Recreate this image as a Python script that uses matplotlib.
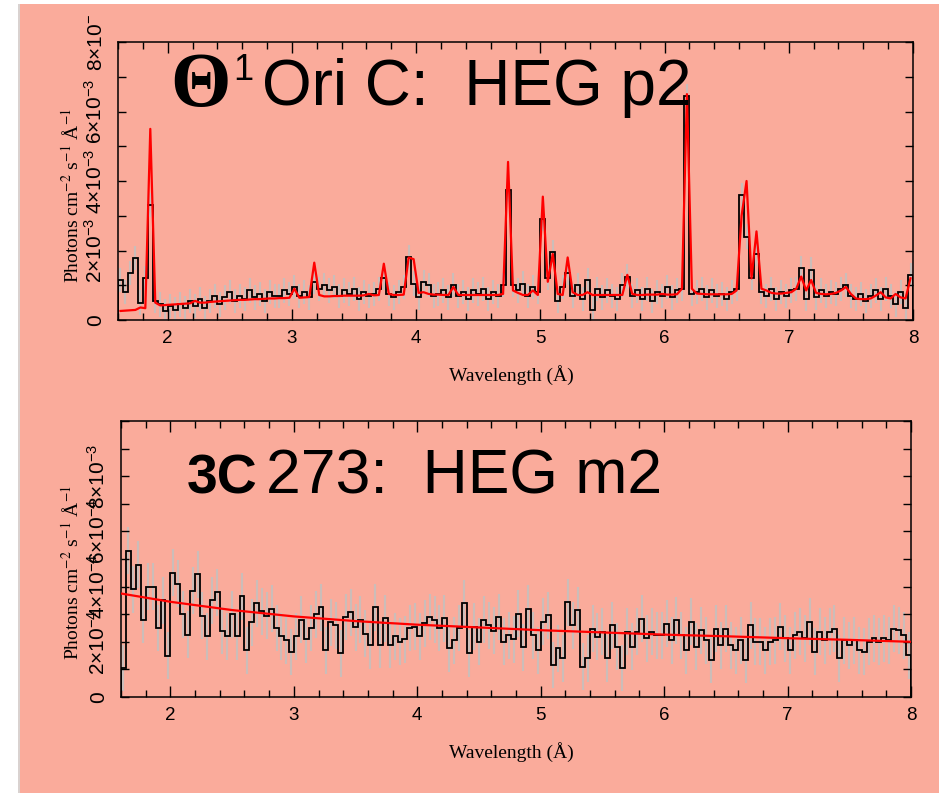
import numpy as np
import matplotlib
matplotlib.use("Agg")
import matplotlib.pyplot as plt
from matplotlib.patches import Rectangle
from matplotlib.ticker import MultipleLocator

plt.rcParams["font.family"] = ["Liberation Sans", "DejaVu Sans"]
plt.rcParams["mathtext.fontset"] = "custom"
plt.rcParams["mathtext.rm"] = "Liberation Sans"
plt.rcParams["mathtext.it"] = "Liberation Sans:italic"
plt.rcParams["mathtext.bf"] = "Liberation Sans:bold"

# ------------------------------------------------------------------
# data (bins of 0.04 A starting at 1.60 A)
# ------------------------------------------------------------------
BIN_START = 1.60
BIN_WIDTH = 0.04

# Theta1 Ori C, HEG p2: counts spectrum (units of 1e-3)
ori_flux = [
    1.15, 0.8, 1.35, 1.78, 0.5, 1.2, 3.3, 0.55, 0.45, 0.25, 0.4, 0.3, 0.45, 0.35, 0.55, 0.4,
    0.6, 0.35, 0.55, 0.7, 0.45, 0.65, 0.8, 0.55, 0.7, 0.6, 0.85, 0.65, 0.75, 0.55, 0.8, 0.7,
    0.7, 0.85, 0.75, 0.95, 0.7, 0.8, 0.65, 1.1, 0.9, 1.0, 0.85, 0.95, 0.7, 0.85, 0.75, 0.9,
    0.6, 0.8, 0.7, 0.75, 0.9, 1.2, 0.75, 0.65, 0.8, 0.95, 1.8, 1.05, 0.65, 1.1, 1.0, 0.7,
    0.75, 0.85, 0.65, 1.0, 0.7, 0.8, 0.6, 0.85, 0.75, 0.9, 0.6, 0.8, 0.7, 1.0, 3.75, 1.0,
    0.85, 1.05, 0.7, 0.95, 0.8, 2.9, 1.2, 1.95, 0.55, 0.95, 1.35, 0.7, 1.0, 0.6, 1.15, 0.3,
    0.9, 0.65, 0.85, 0.7, 0.6, 1.0, 1.25, 0.7, 0.85, 0.6, 0.9, 0.55, 0.8, 0.7, 0.95, 0.65,
    0.85, 0.9, 6.45, 0.75, 0.8, 0.9, 0.65, 0.85, 0.7, 0.75, 0.6, 0.8, 0.9, 3.6, 2.4, 1.2,
    1.9, 0.8, 0.7, 0.9, 0.6, 0.8, 0.7, 0.85, 0.9, 1.5, 0.6, 1.45, 0.65, 0.85, 0.7, 0.8,
    0.75, 0.9, 1.0, 0.7, 0.6, 0.75, 0.55, 0.7, 0.85, 0.6, 0.9, 0.7, 0.45, 0.8, 0.35, 1.3,
]
ori_model = [
    0.26, 0.27, 0.28, 0.29, 0.36, 0.34, 5.5, 0.5, 0.42, 0.43, 0.44, 0.45, 0.46, 0.47, 0.48, 0.55,
    0.5, 0.5, 0.52, 0.53, 0.54, 0.55, 0.56, 0.57, 0.58, 0.58, 0.59, 0.6, 0.6, 0.61, 0.62, 0.62,
    0.63, 0.63, 0.64, 0.9, 0.64, 0.65, 0.66, 1.65, 0.72, 0.68, 0.68, 0.69, 0.69, 0.7, 0.7, 0.7,
    0.7, 0.71, 0.75, 0.71, 0.72, 1.62, 0.75, 0.72, 0.72, 0.73, 1.8, 1.75, 0.78, 0.8, 0.75, 0.73,
    0.73, 0.72, 0.72, 0.95, 0.72, 0.72, 0.72, 0.72, 0.72, 0.72, 0.72, 0.72, 0.72, 0.75, 4.55, 0.85,
    0.78, 0.72, 0.72, 0.85, 0.72, 3.55, 1.1, 1.9, 0.75, 0.72, 1.8, 0.8, 0.72, 0.72, 0.8, 0.72,
    0.72, 0.72, 0.72, 0.72, 0.72, 0.72, 1.3, 0.75, 0.72, 0.72, 0.73, 0.73, 0.73, 0.75, 0.73, 0.73,
    0.74, 0.9, 6.5, 0.9, 0.76, 0.75, 0.74, 0.74, 0.74, 0.74, 0.74, 0.75, 0.85, 3.0, 4.0, 1.2,
    2.55, 0.9, 0.85, 0.78, 0.76, 0.76, 0.78, 0.8, 0.9, 1.25, 0.85, 1.15, 0.78, 0.75, 0.74, 0.75,
    0.78, 0.85, 0.95, 0.75, 0.62, 0.6, 0.6, 0.62, 0.7, 0.8, 0.65, 0.62, 0.75, 0.65, 0.62, 1.2,
]
ori_err = 0.35

# 3C 273, HEG m2 (units of 1e-4)
qso_flux = [
    1.05, 5.3, 3.9, 4.8, 2.8, 4.0, 4.0, 2.5, 3.5, 1.5, 4.5, 4.1, 3.0, 2.25, 3.85, 4.45,
    2.95, 2.2, 3.5, 3.8, 2.4, 2.2, 3.0, 2.2, 3.65, 1.7, 2.7, 3.4, 3.1,
    2.95, 3.2, 2.5, 2.2, 2.05, 1.63, 2.2, 2.8, 2.1, 2.5, 3.0, 3.25, 1.7, 2.7, 2.6, 1.58,
    2.9, 3.07, 2.53, 2.8, 2.3, 1.88, 3.25, 1.9, 2.85, 1.9, 2.2, 2.0, 2.1, 2.5, 2.55, 2.2,
    2.67, 2.9, 2.8, 2.5, 2.85, 1.77, 2.05, 2.5, 3.4, 1.58, 2.55, 2.0, 2.8, 2.6, 2.4, 2.9,
    2.0, 2.24, 2.1, 3.02, 1.8, 3.2, 2.24, 1.7, 2.72, 2.96,
    1.16, 1.76, 1.4, 3.44, 2.6, 3.14, 1.1, 1.4, 2.48, 2.18,
    2.36, 1.4, 2.6, 1.82, 1.05, 2.36, 1.82, 2.36, 2.84, 2.12,
    2.36, 2.24, 2.24, 2.66, 2.06, 2.78, 2.24, 1.7, 2.72, 1.82,
    2.42, 2.06, 1.34, 2.48, 1.88, 2.48, 1.88, 1.7, 2.06, 1.34,
    2.6, 2.0, 2.0, 1.7, 2.0, 2.06, 2.54, 2.12, 1.7, 2.24,
    2.36, 2.12, 2.72, 1.64, 2.36, 2.06, 2.36, 2.48, 1.4, 2.06,
    1.88, 2.06, 1.7, 1.64, 2.0, 2.12, 2.0, 2.12, 2.06, 2.48,
    2.42, 2.24, 1.52,
]
qso_err = 0.85
qso_model_wave = [1.6, 2.0, 2.5, 3.0, 3.5, 4.0, 4.5, 5.0, 5.5, 6.0, 6.5, 7.0, 7.5, 8.0]
qso_model = [3.75, 3.45, 3.15, 2.92, 2.75, 2.62, 2.52, 2.42, 2.34, 2.26, 2.2, 2.13, 2.07, 2.0]

ori_yticks = [0, 1e-3, 2e-3, 3e-3, 4e-3, 5e-3, 6e-3, 7e-3, 8e-3]
ori_yticklabels = ["0", "", r"2$\times$10$^{-3}$", "", r"4$\times$10$^{-3}$", "",
                   r"6$\times$10$^{-3}$", "", r"8$\times$10$^{-}$"]
qso_yticks = [0, 1e-4, 2e-4, 3e-4, 4e-4, 5e-4, 6e-4, 7e-4, 8e-4, 9e-4, 1e-3]
qso_yticklabels = ["0", "", r"2$\times$10$^{-4}$", "", r"4$\times$10$^{-4}$", "",
                   r"6$\times$10$^{-4}$", "", r"8$\times$10$^{-3}$", "", ""]

SALMON = "#FAAB9B"
W, H = 946, 793


def fx(px):
    return px / W


def fy(py):
    return 1 - py / H


def panel(ax, flux, scale, err, model_x, model_y, ylim, yticks, yticklabels):
    flux = np.array(flux) * scale
    edges = BIN_START + BIN_WIDTH * np.arange(len(flux) + 1)
    centers = 0.5 * (edges[:-1] + edges[1:])
    ax.set_facecolor(SALMON)
    ax.errorbar(centers, flux, yerr=err * scale, fmt="none", ecolor="#cbbdb9",
                elinewidth=1.5, zorder=1)
    ax.stairs(flux, edges, color="black", lw=1.3, zorder=2)
    ax.plot(model_x, np.array(model_y) * scale, color="#ff0000", lw=1.6, zorder=3)
    ax.set_xlim(1.6, 8.0)
    ax.set_ylim(*ylim)
    ax.set_xticks([2, 3, 4, 5, 6, 7, 8])
    ax.xaxis.set_minor_locator(MultipleLocator(0.2))
    ax.set_yticks(yticks)
    ax.set_yticklabels(yticklabels, rotation=90, va="center", fontsize=15)
    ax.tick_params(axis="x", which="major", direction="in", length=8, width=1,
                   top=True, labelsize=13.5, pad=7)
    ax.tick_params(axis="x", which="minor", direction="in", length=5, width=1, top=True)
    ax.tick_params(axis="y", which="major", direction="in", length=6, width=1,
                   right=True, pad=9)
    for s in ax.spines.values():
        s.set_linewidth(1.1)


fig = plt.figure(figsize=(W / 100, H / 100), dpi=100, facecolor="white")
fig.patches.append(Rectangle((fx(18), 0), fx(3), fy(4), transform=fig.transFigure,
                             facecolor="#d9d2d0", edgecolor="none", zorder=-2))
fig.patches.append(Rectangle((fx(20), 0), fx(919), fy(4), transform=fig.transFigure,
                             facecolor=SALMON, edgecolor="none", zorder=-1))

ax1 = fig.add_axes([fx(118), fy(320), fx(913 - 118), fy(42) - fy(320)])
ori_centers = BIN_START + BIN_WIDTH * (np.arange(len(ori_model)) + 0.5)
panel(ax1, ori_flux, 1e-3, ori_err, ori_centers, ori_model, (0, 8e-3),
      ori_yticks, ori_yticklabels)

ax2 = fig.add_axes([fx(121), fy(697), fx(911 - 121), fy(421) - fy(697)])
panel(ax2, qso_flux, 1e-4, qso_err, qso_model_wave, qso_model, (0, 1e-3),
      qso_yticks, qso_yticklabels)

ylab = r"Photons cm$^{-2}$ s$^{-1}$ Å$^{-1}$"
for yc in (196, 573):
    fig.text(fx(72), fy(yc), ylab, rotation=90, ha="center", va="center",
             fontsize=14, family="Liberation Serif", math_fontfamily="stix")
for yc in (375, 752):
    fig.text(fx(511), fy(yc), "Wavelength (Å)", ha="center", va="center",
             fontsize=14, family="Liberation Serif")

# panel titles
fig.text(fx(170), fy(106), "Θ", family="Liberation Serif", fontweight="bold",
         fontsize=56, va="baseline", ha="left")
fig.text(fx(233), fy(80), "1", fontsize=26, va="baseline", ha="left")
fig.text(fx(262), fy(105), "Ori C:  HEG p2", fontsize=46, va="baseline", ha="left")

fig.text(fx(187), fy(493), "3C", fontweight="bold", fontsize=40, va="baseline", ha="left")
fig.text(fx(266), fy(493), "273:  HEG m2", fontsize=45, va="baseline", ha="left")

fig.savefig("out.png", dpi=100, facecolor="white")
